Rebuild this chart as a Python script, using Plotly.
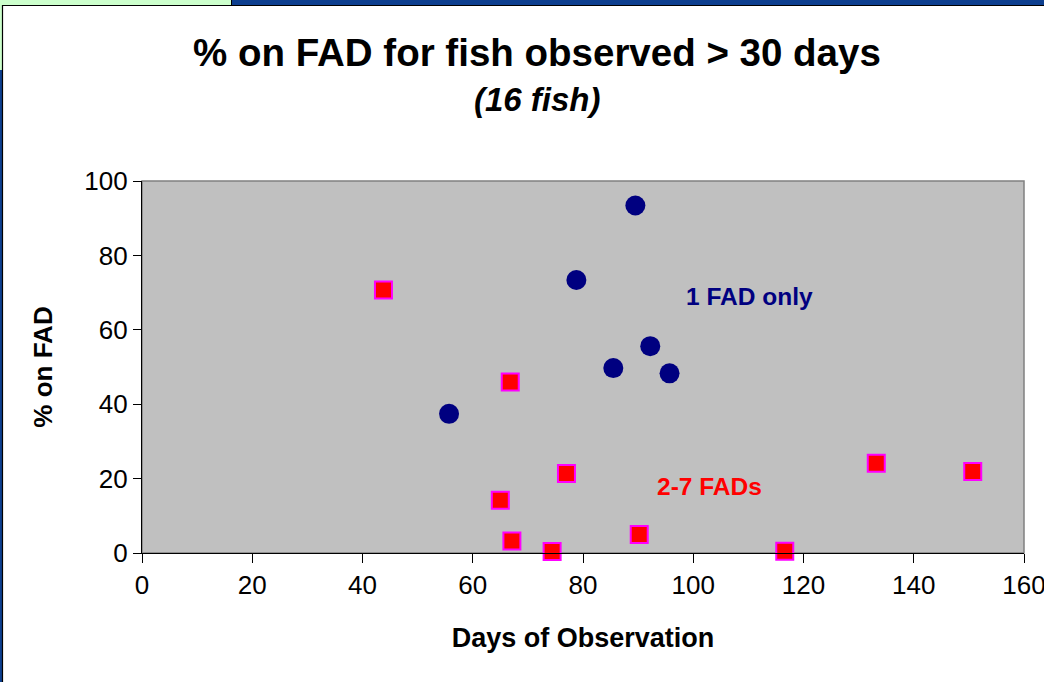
import plotly.graph_objects as go

# Data
one_fad_days = [55.7, 78.8, 89.5, 85.5, 92.2, 95.7]
one_fad_pct = [37.4, 73.4, 93.4, 49.7, 55.6, 48.3]

multi_fad_days = [43.8, 66.8, 65.0, 77.0, 67.1, 74.4, 90.2, 116.6, 133.2, 150.7]
multi_fad_pct = [70.7, 46.0, 14.2, 21.4, 3.2, 0.4, 5.0, 0.5, 24.1, 21.9]

x_ticks = [0, 20, 40, 60, 80, 100, 120, 140, 160]
y_ticks = [0, 20, 40, 60, 80, 100]

W, H = 1044, 682
L, R, T, B = 142, 1024, 181, 553
FONT = "Liberation Sans, Arial, sans-serif"


def px(x):
    return (x - L) / (R - L)


def py(y):
    return (B - y) / (B - T)


fig = go.Figure()
fig.add_trace(go.Scatter(
    x=one_fad_days, y=one_fad_pct, mode="markers", name="1 FAD only",
    marker=dict(symbol="circle", size=20, color="#000080", line=dict(width=0)),
    cliponaxis=False, hoverinfo="skip"))
fig.add_trace(go.Scatter(
    x=multi_fad_days, y=multi_fad_pct, mode="markers", name="2-7 FADs",
    marker=dict(symbol="square", size=17, color="#FF0000",
                line=dict(width=2, color="#FF00FF")),
    cliponaxis=False, hoverinfo="skip"))

shapes = [
    # plot border
    dict(type="rect", xref="paper", yref="paper", x0=0, x1=1, y0=0, y1=1,
         line=dict(color="#808080", width=1.5), layer="below"),
    # slide frame strips
    dict(type="rect", xref="paper", yref="paper", x0=px(231), x1=px(1044), y0=py(0), y1=py(5),
         fillcolor="#0D3F8F", line=dict(width=0), layer="above"),
    dict(type="rect", xref="paper", yref="paper", x0=px(0), x1=px(231), y0=py(0), y1=py(5),
         fillcolor="#CCFFCC", line=dict(width=0), layer="above"),
    dict(type="rect", xref="paper", yref="paper", x0=px(0), x1=px(2), y0=py(0), y1=py(70),
         fillcolor="#CCFFCC", line=dict(width=0), layer="above"),
    dict(type="rect", xref="paper", yref="paper", x0=px(0), x1=px(2), y0=py(70), y1=py(682),
         fillcolor="#0D3F8F", line=dict(width=0), layer="above"),
    dict(type="line", xref="paper", yref="paper", x0=px(2), x1=px(1044), y0=py(5.5), y1=py(5.5),
         line=dict(color="black", width=1.2), layer="above"),
    dict(type="line", xref="paper", yref="paper", x0=px(2.5), x1=px(2.5), y0=py(5), y1=py(682),
         line=dict(color="black", width=1.2), layer="above"),
    dict(type="line", xref="paper", yref="paper", x0=px(231.5), x1=px(231.5), y0=py(0), y1=py(5),
         line=dict(color="black", width=1), layer="above"),
]

annotations = [
    dict(text="<b>% on FAD for fish observed &gt; 30 days</b>", xref="paper", yref="paper",
         x=px(537), y=py(52), showarrow=False, xanchor="center", yanchor="middle",
         font=dict(family=FONT, size=38.5, color="black")),
    dict(text="<b><i>(16 fish)</i></b>", xref="paper", yref="paper",
         x=px(537), y=py(100), showarrow=False, xanchor="center", yanchor="middle",
         font=dict(family=FONT, size=33, color="black")),
    dict(text="<b>1 FAD only</b>", x=110.2, y=69, xref="x", yref="y", showarrow=False,
         font=dict(family=FONT, size=24.5, color="#000080")),
    dict(text="<b>2-7 FADs</b>", x=102.9, y=18, xref="x", yref="y", showarrow=False,
         font=dict(family=FONT, size=24.5, color="#FF0000")),
]

fig.update_layout(
    width=W, height=H,
    margin=dict(l=L, r=W - R, t=T, b=H - B, pad=0, autoexpand=False),
    paper_bgcolor="white", plot_bgcolor="#C0C0C0",
    showlegend=False,
    shapes=shapes, annotations=annotations,
    font=dict(family=FONT, color="black"),
)
fig.update_xaxes(
    range=[0, 160], tickvals=x_ticks, ticktext=[str(v) for v in x_ticks],
    showgrid=False, zeroline=False, showline=True, linecolor="black", linewidth=1.2,
    ticks="outside", ticklen=9, tickcolor="black", tickwidth=1.2,
    tickfont=dict(family=FONT, size=26, color="black"),
    ticklabeloverflow="allow", automargin=False,
    title=dict(text="<b>Days of Observation</b>", font=dict(family=FONT, size=27), standoff=28),
    fixedrange=True,
)
fig.update_yaxes(
    range=[0, 100], tickvals=y_ticks, ticktext=[str(v) for v in y_ticks],
    showgrid=False, zeroline=False, showline=True, linecolor="black", linewidth=1.2,
    ticks="outside", ticklen=8, tickcolor="black", tickwidth=1.2,
    tickfont=dict(family=FONT, size=26, color="black"),
    automargin=False,
    title=dict(text="<b>% on FAD</b>", font=dict(family=FONT, size=26), standoff=24),
    fixedrange=True,
)

fig.write_html("out.html", config={"displayModeBar": False},
               post_script="document.body.style.margin='0';")
